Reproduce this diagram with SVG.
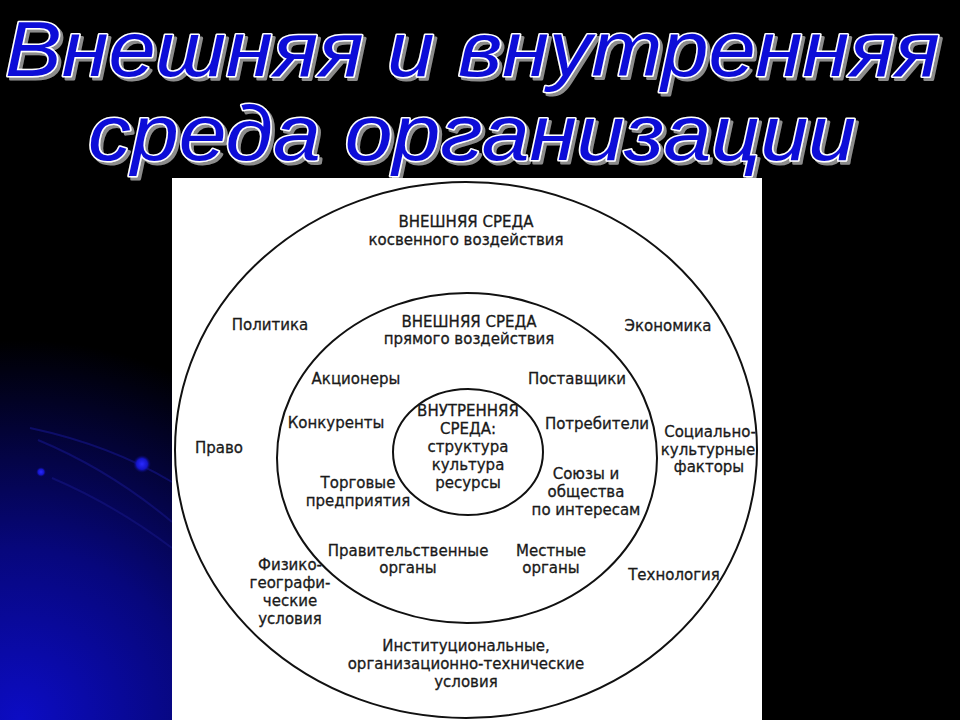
<svg xmlns="http://www.w3.org/2000/svg" width="960" height="720" viewBox="0 0 960 720">
<defs>
  <radialGradient id="bg" cx="20" cy="720" r="380" gradientUnits="userSpaceOnUse">
    <stop offset="0" stop-color="#0c0cc4"/>
    <stop offset="0.45" stop-color="#07077c"/>
    <stop offset="1" stop-color="#000000"/>
  </radialGradient>
  <radialGradient id="dot">
    <stop offset="0" stop-color="#2a2aff"/>
    <stop offset="0.6" stop-color="#1414c8"/>
    <stop offset="1" stop-color="#0a0a60" stop-opacity="0"/>
  </radialGradient>
  <filter id="shadow" x="-5%" y="-20%" width="110%" height="140%">
    <feFlood flood-color="#8c8c8c" result="c"/>
    <feComposite in="c" in2="SourceAlpha" operator="in" result="s"/>
    <feOffset in="s" dx="3" dy="3" result="o"/>
    <feMerge>
      <feMergeNode in="o"/>
      <feMergeNode in="SourceGraphic"/>
    </feMerge>
  </filter>
  <style>
    .lbl { font-family: "DejaVu Sans", "Liberation Sans", sans-serif; font-size: 15px; fill: #1a1a1a; stroke: #1a1a1a; stroke-width: 0.3; text-anchor: middle; }
    .ring { fill: none; stroke: #111; stroke-width: 2; }
    .ttl { font-family: "Liberation Sans", Arial, sans-serif; font-style: italic; font-size: 78px; fill: #0c0cd8; stroke: #ffffff; stroke-width: 3; stroke-linejoin: round; paint-order: stroke; }
    .arc { fill: none; stroke: #12127a; stroke-width: 2; opacity: 0.75; }
  </style>
</defs>

<rect x="0" y="0" width="960" height="720" fill="#000"/>
<rect x="0" y="0" width="960" height="720" fill="url(#bg)"/>

<g id="decor">
  <path class="arc" d="M30,428 Q110,445 172,482"/>
  <path class="arc" d="M38,440 Q110,470 172,522"/>
  <path class="arc" d="M52,478 Q115,505 172,548"/>
  <circle cx="142" cy="464" r="9" fill="url(#dot)"/>
  <circle cx="41" cy="472" r="5" fill="url(#dot)"/>
</g>

<g id="title" filter="url(#shadow)">
  <text class="ttl" x="5" y="76" textLength="935" lengthAdjust="spacingAndGlyphs">Внешняя и внутренняя</text>
  <text class="ttl" x="88" y="160" textLength="768" lengthAdjust="spacingAndGlyphs">среда организации</text>
</g>

<rect id="panel" x="172" y="178" width="590" height="542" fill="#ffffff"/>

<g id="rings">
  <ellipse id="ring-outer" class="ring" cx="466" cy="450" rx="291" ry="268"/>
  <ellipse id="ring-middle" class="ring" cx="467" cy="458" rx="190" ry="165"/>
  <ellipse id="ring-inner" class="ring" cx="468" cy="452" rx="75" ry="63"/>
</g>

<g id="outer-title">
  <text class="lbl" x="466" y="227">ВНЕШНЯЯ СРЕДА</text>
  <text class="lbl" x="466" y="245">косвенного воздействия</text>
</g>
<g id="politika"><text class="lbl" x="270" y="330">Политика</text></g>
<g id="ekonomika"><text class="lbl" x="668" y="331">Экономика</text></g>
<g id="pravo"><text class="lbl" x="219" y="453">Право</text></g>
<g id="socio">
  <text class="lbl" x="710" y="437">Социально-</text>
  <text class="lbl" x="708" y="455">культурные</text>
  <text class="lbl" x="709" y="472">факторы</text>
</g>
<g id="fiziko">
  <text class="lbl" x="290" y="570">Физико-</text>
  <text class="lbl" x="290" y="588">географи-</text>
  <text class="lbl" x="290" y="606">ческие</text>
  <text class="lbl" x="290" y="624">условия</text>
</g>
<g id="tehnologia"><text class="lbl" x="674" y="580">Технология</text></g>
<g id="institut">
  <text class="lbl" x="466" y="651">Институциональные,</text>
  <text class="lbl" x="466" y="669">организационно-технические</text>
  <text class="lbl" x="466" y="687">условия</text>
</g>

<g id="middle-title">
  <text class="lbl" x="469" y="327">ВНЕШНЯЯ СРЕДА</text>
  <text class="lbl" x="469" y="344">прямого воздействия</text>
</g>
<g id="akcionery"><text class="lbl" x="356" y="384">Акционеры</text></g>
<g id="postavshiki"><text class="lbl" x="577" y="384">Поставщики</text></g>
<g id="konkurenty"><text class="lbl" x="336" y="428">Конкуренты</text></g>
<g id="potrebiteli"><text class="lbl" x="597" y="429">Потребители</text></g>
<g id="torgovye">
  <text class="lbl" x="358" y="488">Торговые</text>
  <text class="lbl" x="358" y="506">предприятия</text>
</g>
<g id="soyuzy">
  <text class="lbl" x="586" y="479">Союзы и</text>
  <text class="lbl" x="586" y="497">общества</text>
  <text class="lbl" x="586" y="515">по интересам</text>
</g>
<g id="pravit">
  <text class="lbl" x="408" y="556">Правительственные</text>
  <text class="lbl" x="408" y="573">органы</text>
</g>
<g id="mestnye">
  <text class="lbl" x="551" y="556">Местные</text>
  <text class="lbl" x="551" y="573">органы</text>
</g>

<g id="inner">
  <text class="lbl" x="468" y="416">ВНУТРЕННЯЯ</text>
  <text class="lbl" x="468" y="434">СРЕДА:</text>
  <text class="lbl" x="468" y="452">структура</text>
  <text class="lbl" x="468" y="470">культура</text>
  <text class="lbl" x="468" y="488">ресурсы</text>
</g>
</svg>
